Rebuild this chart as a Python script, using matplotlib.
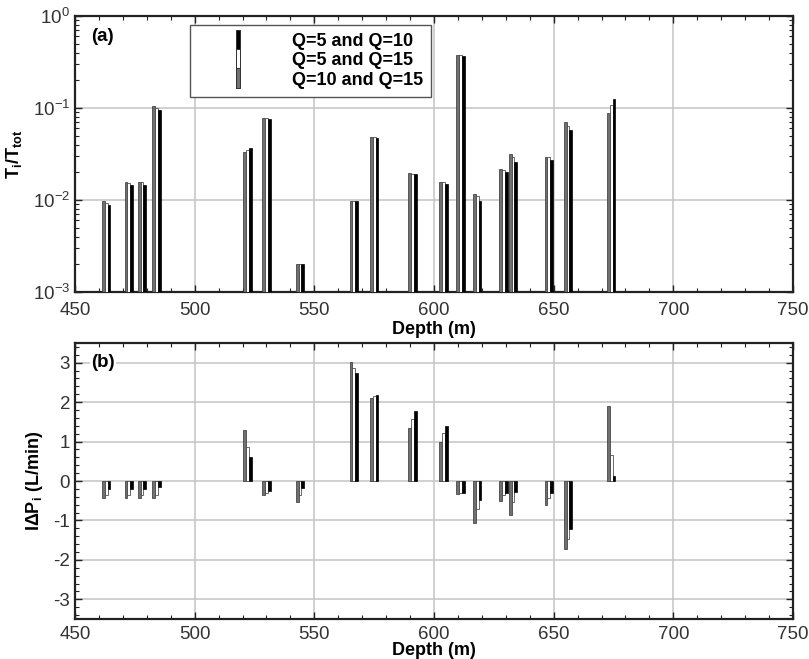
import numpy as np
import matplotlib.pyplot as plt
from matplotlib.ticker import MultipleLocator, LogLocator, NullFormatter
from matplotlib.lines import Line2D

plt.rcParams['font.family'] = ['Liberation Sans', 'DejaVu Sans']
plt.rcParams['mathtext.fontset'] = 'custom'
plt.rcParams['mathtext.rm'] = 'Liberation Sans'
plt.rcParams['mathtext.bf'] = 'Liberation Sans:bold'
plt.rcParams['mathtext.it'] = 'Liberation Sans:italic'
plt.rcParams['axes.unicode_minus'] = False

# depths of the flowing zones (m)
depth = [463, 472.5, 478, 484, 522, 530, 544, 566.5, 575, 591, 604, 611,
         618, 629, 633, 648, 656, 674]

# (a) Ti/Ttot for each pair of flow rates
t_10_15 = [0.0097, 0.0155, 0.0155, 0.104, 0.033, 0.077, 0.002, 0.0098, 0.048,
           0.0197, 0.0158, 0.375, 0.0117, 0.0215, 0.032, 0.0295, 0.070, 0.088]
t_5_15 = [0.0093, 0.0152, 0.0155, 0.100, 0.035, 0.077, 0.002, 0.0098, 0.048,
          0.0193, 0.0155, 0.375, 0.0110, 0.0212, 0.029, 0.0290, 0.064, 0.108]
t_5_10 = [0.0088, 0.0146, 0.0146, 0.095, 0.037, 0.076, 0.002, 0.0098, 0.047,
          0.0190, 0.0148, 0.372, 0.0097, 0.0201, 0.026, 0.0275, 0.058, 0.125]

# (b) |dPi| in L/min
p_10_15 = [-0.42, -0.42, -0.42, -0.42, 1.30, -0.35, -0.52, 3.03, 2.10, 1.34,
           0.98, -0.32, -1.06, -0.51, -0.85, -0.60, -1.73, 1.89]
p_5_15 = [-0.35, -0.35, -0.35, -0.35, 0.86, -0.30, -0.35, 2.87, 2.15, 1.57,
          1.21, -0.30, -0.72, -0.35, -0.54, -0.42, -1.46, 0.67]
p_5_10 = [-0.20, -0.20, -0.20, -0.15, 0.60, -0.25, -0.19, 2.74, 2.17, 1.77,
          1.39, -0.30, -0.49, -0.30, -0.27, -0.30, -1.21, 0.12]

labels = ['Q=5 and Q=10', 'Q=5 and Q=15', 'Q=10 and Q=15']
faces = ['black', 'white', '#707070']

fig = plt.figure(figsize=(8.09, 6.59), dpi=100)
ax1 = fig.add_axes([0.0927, 0.557, 0.8875, 0.4187])
ax2 = fig.add_axes([0.0927, 0.0607, 0.8875, 0.4188])

d = np.array(depth)
w = 1.2

def draw_bars(ax, g, wv, b):
    ax.bar(d - w, g, w, color=faces[2], edgecolor='#303030', linewidth=0.5, zorder=3)
    ax.bar(d, wv, w, color=faces[1], edgecolor='#303030', linewidth=0.5, zorder=3)
    ax.bar(d + w, b, w, color=faces[0], edgecolor='black', linewidth=0.5, zorder=3)

draw_bars(ax1, t_10_15, t_5_15, t_5_10)
draw_bars(ax2, p_10_15, p_5_15, p_5_10)

ax1.set_yscale('log')
ax1.set_ylim(1e-3, 1)
ax1.yaxis.set_major_locator(LogLocator(base=10, numticks=10))
ax1.yaxis.set_minor_locator(LogLocator(base=10, subs=np.arange(2, 10), numticks=10))
ax1.yaxis.set_minor_formatter(NullFormatter())
ax2.set_ylim(-3.5, 3.5)
ax2.yaxis.set_major_locator(MultipleLocator(1))
ax2.yaxis.set_minor_locator(MultipleLocator(0.2))

for ax in (ax1, ax2):
    ax.set_xlim(450, 750)
    ax.xaxis.set_major_locator(MultipleLocator(50))
    ax.xaxis.set_minor_locator(MultipleLocator(10))
    ax.grid(True, which='major', color='#c4c4c4', linewidth=1.1, zorder=0)
    ax.set_axisbelow(True)
    ax.tick_params(which='both', direction='in', top=True, right=True,
                   labelsize=13.5, colors='#222222', labelcolor='#333333')
    ax.tick_params(which='major', length=5, width=1)
    ax.tick_params(which='minor', length=3, width=0.8)
    for s in ax.spines.values():
        s.set_linewidth(1.6)
        s.set_color('#222222')

# upper panel: push the depth labels clear of the 10^-3 label
ax1.tick_params(axis='x', which='major', pad=7.5)
ax1.set_xlabel('Depth (m)', fontsize=13, fontweight='bold', labelpad=1)
ax2.tick_params(axis='x', which='major', pad=5)
ax2.set_xlabel('Depth (m)', fontsize=13, fontweight='bold', labelpad=-1)

ax1.set_ylabel(r'T$_\mathbf{i}$/T$_\mathbf{tot}$', fontsize=13, fontweight='bold', labelpad=6)
ax2.set_ylabel('IΔP$_\\mathbf{i}$ (L/min)', fontsize=13, fontweight='bold', labelpad=6)

ax1.text(0.023, 0.955, '(a)', transform=ax1.transAxes, fontsize=13.5,
         fontweight='bold', va='top', ha='left', zorder=5)
ax2.text(0.023, 0.93, '(b)', transform=ax2.transAxes, fontsize=13.5,
         fontweight='bold', va='center', ha='left', zorder=5,
         bbox=dict(facecolor='white', edgecolor='none', pad=1))

bar_marker = [(-0.22, -1), (0.22, -1), (0.22, 1), (-0.22, 1), (-0.22, -1)]
handles = [Line2D([], [], linestyle='none', marker=bar_marker, markersize=15,
                  markerfacecolor=fc, markeredgecolor='#303030', markeredgewidth=0.7)
           for fc in faces]
leg = ax1.legend(handles, labels, loc='upper left', bbox_to_anchor=(0.160, 0.967),
                 borderaxespad=0, fancybox=False, framealpha=1, edgecolor='#555555',
                 prop={'weight': 'bold', 'size': 13}, handlelength=4.4,
                 handletextpad=0.8, labelspacing=0.12, borderpad=0.45, numpoints=1)
leg.get_frame().set_linewidth(1.0)
leg.set_zorder(6)

fig.savefig('out.png', dpi=100)
